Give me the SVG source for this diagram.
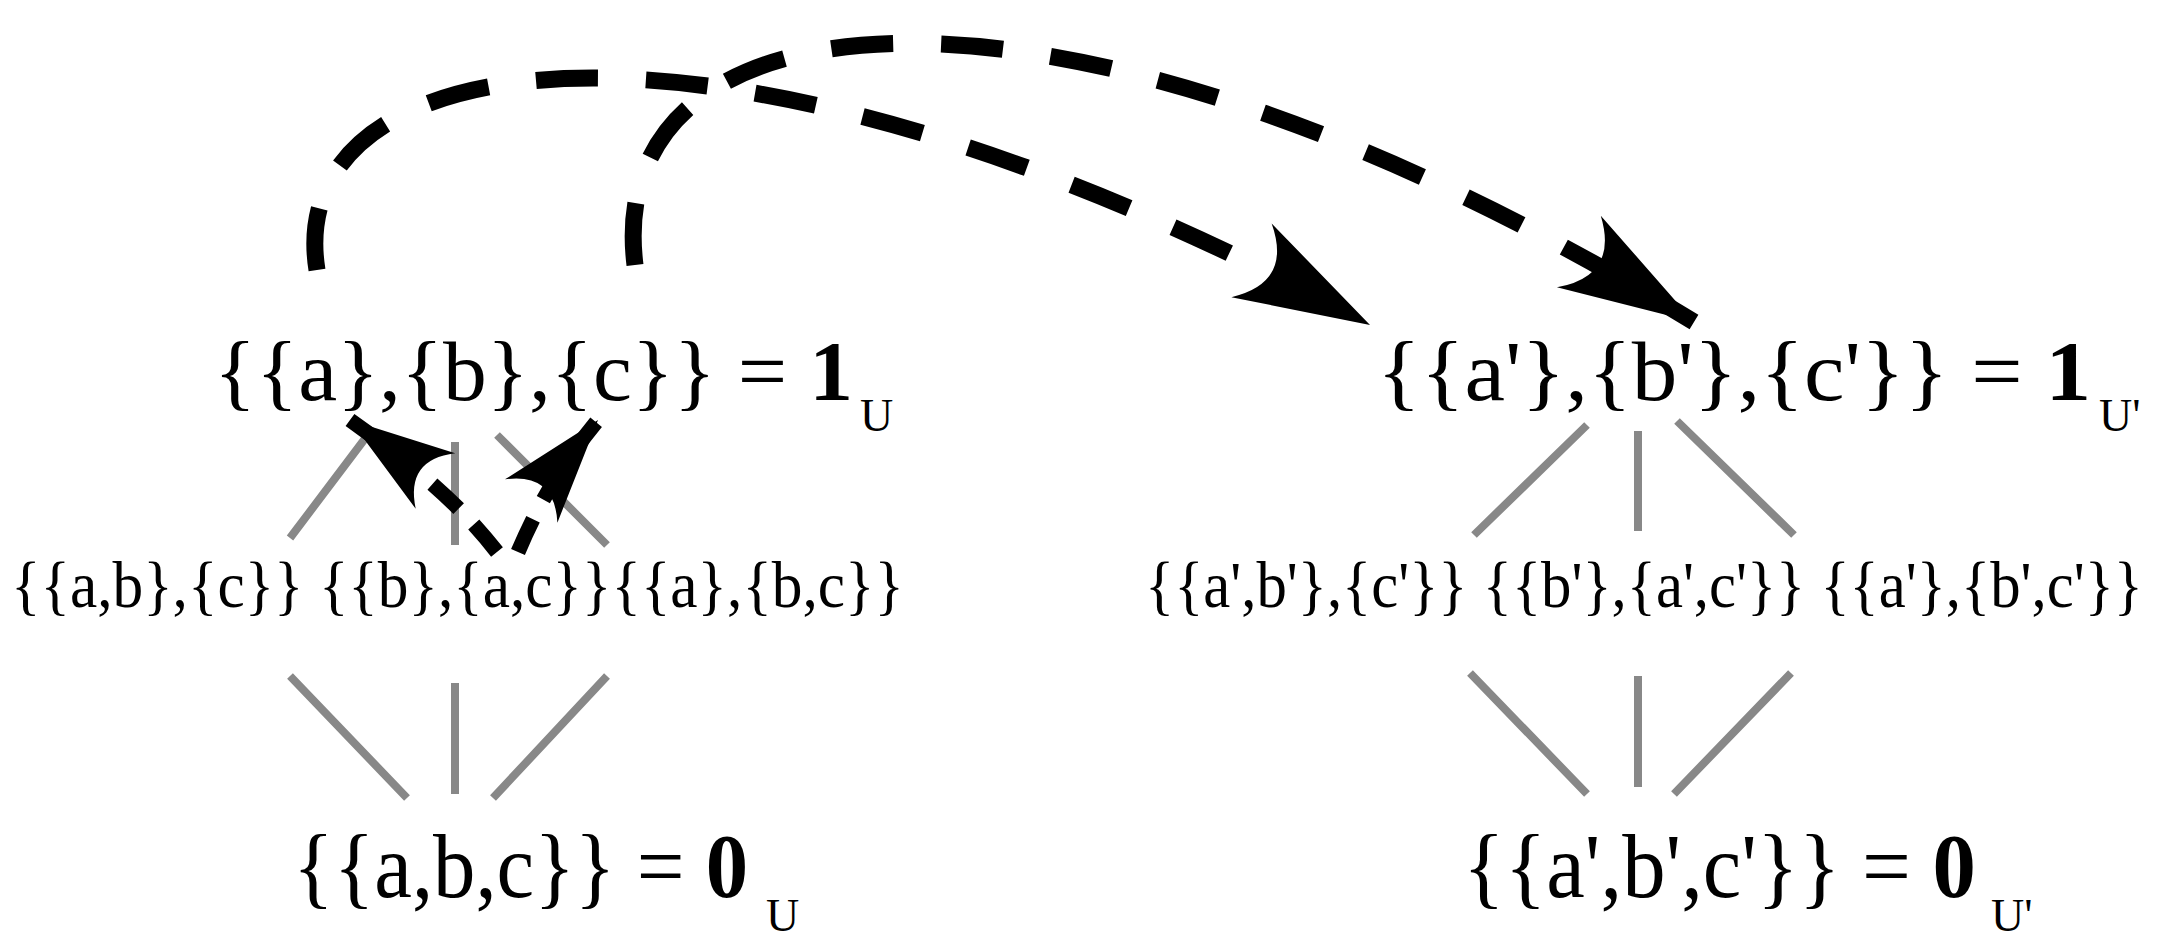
<svg xmlns="http://www.w3.org/2000/svg" width="2164" height="951" viewBox="0 0 2164 951">
<style>
text{font-family:"Liberation Serif","Times New Roman",serif;fill:#000}
.g{stroke:#888;stroke-width:8;fill:none}
.big{stroke:#000;stroke-width:17;fill:none;stroke-dasharray:62 48}
.sm{stroke:#000;stroke-width:15;fill:none;stroke-dasharray:36 22}
.b{font-weight:bold}
</style>
<defs>
<marker id="ah" markerUnits="userSpaceOnUse" viewBox="-140 -50 142 100" refX="0" refY="0" markerWidth="142" markerHeight="100" orient="auto">
<path d="M0,0 L-135,-42 Q-88,0 -135,42 Z" fill="#000"/>
</marker>
<marker id="ahs" markerUnits="userSpaceOnUse" viewBox="-110 -40 112 80" refX="0" refY="0" markerWidth="112" markerHeight="80" orient="auto">
<path d="M0,0 L-105,-34 Q-68,0 -105,34 Z" fill="#000"/>
</marker>
</defs>
<g id="connectors">
<path class="g" d="M373,428 L290,538 M455,442 L455,545 M497,435 L607,545"/>
<path class="g" d="M290,676 L407,798 M455,683 L455,794 M607,676 L493,798"/>
<path class="g" d="M1587,425 L1474,535 M1638,431 L1638,531 M1677,421 L1794,535"/>
<path class="g" d="M1470,673 L1587,794 M1638,676 L1638,787 M1791,673 L1674,794"/>
<path class="big" d="M317,270 C280,40 720,-30 1370,325" marker-end="url(#ah)"/>
<path class="big" d="M635,265 C600,-20 1070,-60 1694,322" marker-end="url(#ah)"/>
<path class="sm" d="M497,552 C460,505 420,470 350,420" marker-end="url(#ahs)"/>
<path class="sm" d="M518,552 C540,500 565,460 598,420" marker-end="url(#ahs)"/>
</g>
<g id="node-1U">
<text x="214" y="400" font-size="84" textLength="639" lengthAdjust="spacingAndGlyphs">{{a},{b},{c}} = <tspan class="b">1</tspan></text>
<text x="860" y="431" font-size="46">U</text>
</g>
<g id="node-mid-left">
<text x="11" y="607" font-size="66" textLength="893" lengthAdjust="spacingAndGlyphs">{{a,b},{c}} {{b},{a,c}}{{a},{b,c}}</text>
</g>
<g id="node-0U">
<text x="293" y="897" font-size="90" textLength="455" lengthAdjust="spacingAndGlyphs">{{a,b,c}} = <tspan class="b">0</tspan></text>
<text x="766" y="931" font-size="46">U</text>
</g>
<g id="node-1U2">
<text x="1377" y="400" font-size="84" textLength="714" lengthAdjust="spacingAndGlyphs">{{a'},{b'},{c'}} = <tspan class="b">1</tspan></text>
<text x="2099" y="431" font-size="46">U'</text>
</g>
<g id="node-mid-right">
<text x="1145" y="607" font-size="66" textLength="998" lengthAdjust="spacingAndGlyphs">{{a',b'},{c'}} {{b'},{a',c'}} {{a'},{b',c'}}</text>
</g>
<g id="node-0U2">
<text x="1463" y="897" font-size="90" textLength="513" lengthAdjust="spacingAndGlyphs">{{a',b',c'}} = <tspan class="b">0</tspan></text>
<text x="1991" y="931" font-size="46">U'</text>
</g>
</svg>
